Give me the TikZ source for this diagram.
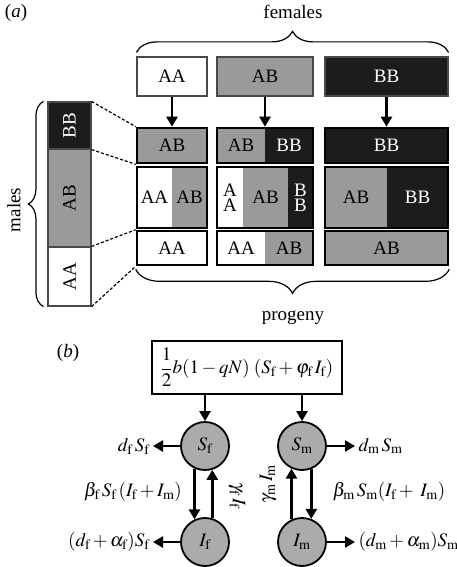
\documentclass[tikz,border=0pt]{standalone}
\usepackage{amsmath}
\usepackage{mathptmx}
\usepackage{fontspec}
\setmainfont{Liberation Serif}
\usepackage{tikz}
\usetikzlibrary{arrows.meta,decorations.pathreplacing}
\definecolor{EdgeGray}{HTML}{4a4a4a}
\definecolor{MidGray}{HTML}{9a9a9a}
\definecolor{CircGray}{HTML}{ababab}
\definecolor{NearBlack}{HTML}{1c1c1c}
\newcommand\nodebirth{$\dfrac{1}{2}b(1-qN)\;(S_\mathrm{f}+\varphi_\mathrm{f}\,I_\mathrm{f})$}
\newcommand\nodedf{$d_\mathrm{f}\,S_\mathrm{f}$}
\newcommand\nodedm{$d_\mathrm{m}\,S_\mathrm{m}$}
\newcommand\nodebf{$\beta_\mathrm{f}\,S_\mathrm{f}\,(I_\mathrm{f}+I_\mathrm{m})$}
\newcommand\nodebm{$\beta_\mathrm{m}\,S_\mathrm{m}(I_\mathrm{f}+\;I_\mathrm{m})$}
\newcommand\nodegf{$\gamma_\mathrm{f}\,I_\mathrm{f}$}
\newcommand\nodegm{$\gamma_\mathrm{m}\,I_\mathrm{m}$}
\newcommand\nodeaf{$(d_\mathrm{f}+\alpha_\mathrm{f})S_\mathrm{f}$}
\newcommand\nodeam{$(d_\mathrm{m}+\alpha_\mathrm{m})S_\mathrm{m}$}
\tikzstyle{txt} = [font=\fontsize{19}{15}\selectfont]
\tikzstyle{parent} = [rectangle, draw=EdgeGray, line width=1.2pt, inner sep=0pt, txt]
\tikzstyle{cell} = [rectangle, inner sep=0pt, txt, align=center]
\tikzstyle{frame} = [rectangle, draw=black, line width=2.6pt, inner sep=0pt, txt]
\tikzstyle{wn} = [fill=white]
\tikzstyle{gn} = [fill=MidGray]
\tikzstyle{bn} = [fill=NearBlack, text=white]
\tikzstyle{pop} = [circle, draw=black, line width=1.8pt, fill=CircGray, minimum size=48pt, inner sep=0pt, txt]
\tikzstyle{arr} = [->, line width=2.6pt]
\tikzstyle{link} = [dashed, dash pattern=on 3pt off 2pt, line width=1.2pt]
\tikzstyle{brc} = [decorate, line width=1.2pt]
\tikzset{>={Triangle[length=10pt,width=11pt]}}

\begin{document}
\begin{tikzpicture}[x=1pt, y=-1pt]
\useasboundingbox (0,0) rectangle (457,567);
% (a) crosses
\node[txt] (tagA) at (16, 13) {(\textit{a})};
\node[txt] (fem) at (293, 12) {females};
\node[parent, wn, minimum width=70pt, minimum height=39pt] (fAA) at (172, 76.5) {AA};
\node[parent, gn, minimum width=96pt, minimum height=39pt] (fAB) at (265, 76.5) {AB};
\node[parent, bn, minimum width=123pt, minimum height=39pt] (fBB) at (386.5, 76.5) {BB};
% males, turned: width runs upwards
\node[parent, bn, minimum width=47pt, minimum height=43pt, rotate=90] (mBB) at (69.5, 125.5) {BB};
\node[parent, gn, minimum width=98pt, minimum height=43pt, rotate=90] (mAB) at (69.5, 198) {AB};
\node[parent, wn, minimum width=59pt, minimum height=43pt, rotate=90] (mAA) at (69.5, 276.5) {AA};
\node[txt, rotate=90] (mal) at (14, 210) {males};
% progeny, row 1
\node[cell, gn, minimum width=48pt, minimum height=35pt] (c12a) at (241, 145.5) {AB};
\node[cell, bn, minimum width=48pt, minimum height=35pt] (c12b) at (289, 145.5) {BB};
\node[frame, gn, minimum width=70pt, minimum height=35pt] (r1c1) at (172, 145.5) {AB};
\node[frame, minimum width=96pt, minimum height=35pt] (r1c2) at (265, 145.5) {};
\node[frame, bn, minimum width=123pt, minimum height=35pt] (r1c3) at (386.5, 145.5) {BB};
% progeny, row 2
\node[cell, wn, minimum width=35pt, minimum height=61pt] (c21a) at (154.5, 197.5) {AA};
\node[cell, gn, minimum width=35pt, minimum height=61pt] (c21b) at (189.5, 197.5) {AB};
\node[cell, wn, minimum width=26pt, minimum height=61pt] (c22a) at (230, 197.5) {A\\A};
\node[cell, gn, minimum width=45pt, minimum height=61pt] (c22b) at (265.5, 197.5) {AB};
\node[cell, bn, minimum width=25pt, minimum height=61pt] (c22c) at (300.5, 197.5) {B\\B};
\node[cell, gn, minimum width=62pt, minimum height=61pt] (c23a) at (356, 197.5) {AB};
\node[cell, bn, minimum width=61pt, minimum height=61pt] (c23b) at (417.5, 197.5) {BB};
\node[frame, minimum width=70pt, minimum height=61pt] (r2c1) at (172, 197.5) {};
\node[frame, minimum width=96pt, minimum height=61pt] (r2c2) at (265, 197.5) {};
\node[frame, minimum width=123pt, minimum height=61pt] (r2c3) at (386.5, 197.5) {};
% progeny, row 3
\node[cell, wn, minimum width=48pt, minimum height=34pt] (c32a) at (241, 248) {AA};
\node[cell, gn, minimum width=48pt, minimum height=34pt] (c32b) at (289, 248) {AB};
\node[frame, wn, minimum width=70pt, minimum height=34pt] (r3c1) at (172, 248) {AA};
\node[frame, minimum width=96pt, minimum height=34pt] (r3c2) at (265, 248) {};
\node[frame, gn, minimum width=123pt, minimum height=34pt] (r3c3) at (386.5, 248) {AB};
\node[txt] (prog) at (293, 318) {progeny};
\draw[arr] (fAA.south) -- (r1c1.north);
\draw[arr] (fAB.south) -- (r1c2.north);
\draw[arr] (fBB.south) -- (r1c3.north);
\draw[link] (mBB.south east) -- (r1c1.north west);
\draw[link] (mBB.south west) -- (r1c1.south west);
\draw[link] (mAA.south east) -- (r3c1.north west);
\draw[link] (mAA.south west) -- (r3c1.south west);
\draw[brc, decoration={brace, amplitude=21pt}] ([yshift=4pt]fAA.north west) -- ([yshift=4pt]fBB.north east);
\draw[brc, decoration={brace, amplitude=15pt}] ([xshift=-4pt]mAA.north west) -- ([xshift=-4pt]mBB.north east);
\draw[brc, decoration={brace, amplitude=24pt}] ([yshift=-3pt]r3c3.south east) -- ([yshift=-3pt]r3c1.south west);
% (b) SI model
\node[txt] (tagB) at (68, 353) {(\textit{b})};
\node[rectangle, draw=black, line width=1.2pt, minimum width=190pt, minimum height=53pt, txt] (birth) at (247, 367.5) {\nodebirth};
\node[pop] (Sf) at (205, 446) {$S_\mathrm{f}$};
\node[pop] (Sm) at (302, 446) {$S_\mathrm{m}$};
\node[pop] (If) at (205, 542) {$I_\mathrm{f}$};
\node[pop] (Im) at (302, 542) {$I_\mathrm{m}$};
\node[txt, anchor=east] (df) at (153, 446) {\nodedf};
\node[txt, anchor=west] (dm) at (355, 446) {\nodedm};
\node[txt] (bf) at (133, 492) {\nodebf};
\node[txt] (bm) at (389, 492) {\nodebm};
\node[txt, rotate=-90] (gf) at (237, 496) {\nodegf};
\node[txt, rotate=90] (gm) at (268, 484) {\nodegm};
\node[txt, anchor=east] (af) at (153, 542) {\nodeaf};
\node[txt, anchor=west] (am) at (355, 542) {\nodeam};
\draw[arr] (birth.south -| Sf) -- (Sf.north);
\draw[arr] (birth.south -| Sm) -- (Sm.north);
\draw[arr] (Sf.west) -- (df.east);
\draw[arr] (Sm.east) -- (dm.west);
\draw[arr] (If.west) -- (af.east);
\draw[arr] (Im.east) -- (am.west);
\draw[arr] (Sf.245) -- (If.115);
\draw[arr] (If.73) -- (Sf.287);
\draw[arr] (Im.115) -- (Sm.245);
\draw[arr] (Sm.292) -- (Im.68);
\end{tikzpicture}
\end{document}
